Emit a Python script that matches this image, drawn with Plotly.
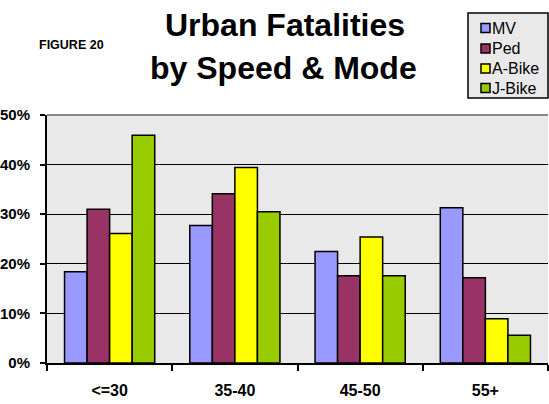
import plotly.graph_objects as go

categories = ["<=30", "35-40", "45-50", "55+"]
mv = [18.4, 27.7, 22.5, 31.3]
ped = [31.0, 34.1, 17.6, 17.2]
a_bike = [26.1, 39.4, 25.4, 8.9]
j_bike = [45.9, 30.5, 17.6, 5.6]
series_names = ["MV", "Ped", "A-Bike", "J-Bike"]
series_colors = ["#9999FF", "#993366", "#FFFF00", "#99CC00"]
y_ticks = [0, 10, 20, 30, 40, 50]
y_tick_labels = ["0%", "10%", "20%", "30%", "40%", "50%"]

FONT = "Liberation Sans, Arial, sans-serif"

L, R, T, B = 47, 1, 115, 41
PW, PH = 549 - L - R, 404 - T - B

def px(x):
    return (x - L) / PW

def py(y):
    return (404 - B - y) / PH

fig = go.Figure()
for name, vals, col in zip(series_names, [mv, ped, a_bike, j_bike], series_colors):
    fig.add_trace(go.Bar(
        x=categories, y=vals, name=name,
        marker=dict(color=col, line=dict(color="black", width=1.5)),
    ))

fig.update_layout(
    width=549, height=404,
    margin=dict(l=L, r=R, t=T, b=B, autoexpand=False),
    paper_bgcolor="white",
    plot_bgcolor="#e9e9e9",
    barmode="group",
    bargap=0.28,
    bargroupgap=0,
    font=dict(family=FONT, color="black"),
    showlegend=False,
    xaxis=dict(
        type="category",
        tickson="boundaries",
        ticks="outside", ticklen=6, tickwidth=1.5, tickcolor="black",
        showgrid=False,
        showline=True, linecolor="black", linewidth=2,
        tickfont=dict(size=16, family=FONT, weight="bold"),
        ticklabelstandoff=12,
    ),
    yaxis=dict(
        range=[0, 50],
        tickvals=y_ticks, ticktext=y_tick_labels,
        ticks="outside", ticklen=5, tickwidth=1.5, tickcolor="black",
        showgrid=True, gridcolor="black", gridwidth=1.3,
        showline=True, linecolor="black", linewidth=2,
        zeroline=False,
        tickfont=dict(size=15, family=FONT, weight="bold"),
        ticklabelstandoff=7,
    ),
)

# gray top border of plot area
fig.add_shape(type="line", xref="paper", yref="paper", x0=0, x1=1, y0=1, y1=1,
              line=dict(color="#8a8a8a", width=2))

# legend box (drawn as layout decoration)
fig.add_shape(type="rect", xref="paper", yref="paper",
              x0=px(468), x1=px(548), y0=py(98), y1=py(13),
              fillcolor="#e9e9e9", line=dict(color="black", width=1.5))
row_y = [28, 48.5, 68.5, 88]
for name, col, ry in zip(series_names, series_colors, row_y):
    fig.add_shape(type="rect", xref="paper", yref="paper",
                  x0=px(481), x1=px(490), y0=py(ry + 4.5), y1=py(ry - 4.5),
                  fillcolor=col, line=dict(color="black", width=1.5))
    fig.add_annotation(text=name, xref="paper", yref="paper",
                       x=px(490.5), y=py(ry), xanchor="left", yanchor="middle",
                       showarrow=False, borderpad=0,
                       font=dict(size=16, family=FONT))

fig.add_annotation(text="<b>FIGURE 20</b>", xref="paper", yref="paper",
                   x=px(37), y=py(45), xanchor="left", yanchor="middle",
                   showarrow=False, font=dict(size=12.5, family=FONT))
fig.add_annotation(text="<b>Urban Fatalities</b>", xref="paper", yref="paper",
                   x=px(285), y=py(25), xanchor="center", yanchor="middle",
                   showarrow=False, font=dict(size=32, family=FONT))
fig.add_annotation(text="<b>by Speed &amp; Mode</b>", xref="paper", yref="paper",
                   x=px(283), y=py(68), xanchor="center", yanchor="middle",
                   showarrow=False, font=dict(size=32, family=FONT))

fig.write_html("out.html", config={"displayModeBar": False},
               post_script="document.body.style.margin='0px';")
